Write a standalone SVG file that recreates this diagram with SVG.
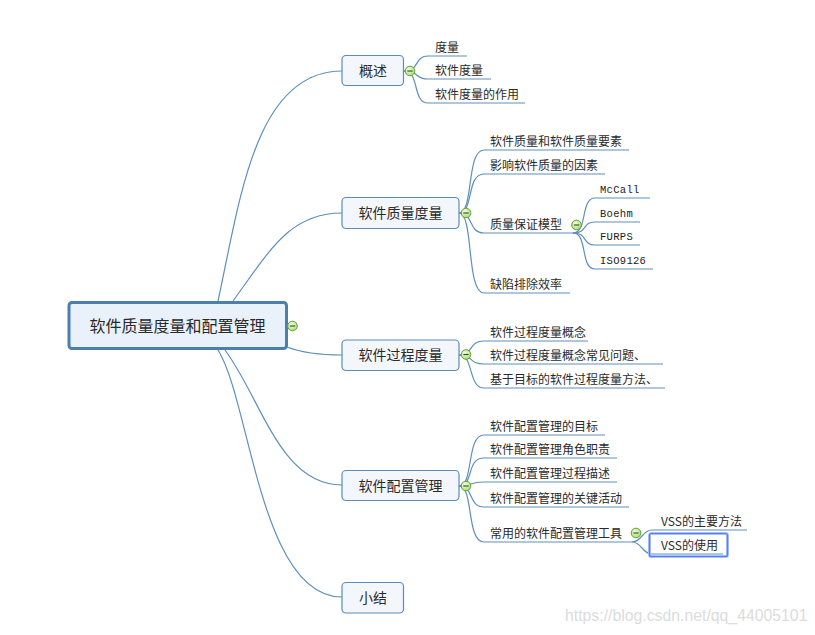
<svg xmlns="http://www.w3.org/2000/svg" width="815" height="635" viewBox="0 0 815 635">
<style>
.c{fill:none;stroke:#5e8fbb;stroke-width:1.2}
.box{fill:#f3f7fc;stroke:#5a8cbc;stroke-width:1.2}
.root{fill:#e9f1fb;stroke:#4a7fae;stroke-width:3}
.t{font-family:"Noto Sans CJK SC","Liberation Sans",sans-serif;fill:#2a2a2a}
.s{font-size:12px}
.b{font-size:14px;text-anchor:middle}
.r{font-size:16px;text-anchor:middle}
.m{font-family:"Liberation Mono",monospace;font-size:10.5px;fill:#222;letter-spacing:0.3px}
.wm{font-family:"Liberation Sans",sans-serif;font-size:15.8px;fill:#dcdcdc}
</style>
<defs>
<radialGradient id="ig" cx="0.4" cy="0.35" r="0.7"><stop offset="0" stop-color="#f1fbe4"/><stop offset="1" stop-color="#a9d978"/></radialGradient>
<g id="icon"><circle r="4.8" fill="url(#ig)" stroke="#62a42a" stroke-width="1"/><line x1="-2.6" y1="0" x2="2.6" y2="0" stroke="#2d4d18" stroke-width="1.1"/></g>
</defs>
<rect width="815" height="635" fill="#ffffff"/>
<g id="connectors">
<path class="c" d="M218 301 C240 200 255 71 342 71"/>
<path class="c" d="M233 301 C270 250 290 213 342 213"/>
<path class="c" d="M287 347 C300 352 320 355 342 355"/>
<path class="c" d="M225 350 C262 400 280 485 342 485"/>
<path class="c" d="M218 350 C250 400 260 597 342 597"/>
<path class="c" d="M404 71 C420 71 414 56 428 56 L467 56"/>
<path class="c" d="M404 71 C420 71 414 79 428 79 L491 79"/>
<path class="c" d="M404 71 C420 71 412 103 428 103 L525 103"/>
<path class="c" d="M459 213 C474 213 466 150 484 150 L629 150"/>
<path class="c" d="M459 213 C474 213 466 174 484 174 L605 174"/>
<path class="c" d="M459 213 C474 213 468 233 484 233 L573 233"/>
<path class="c" d="M459 213 C474 213 466 293 484 293 L570 293"/>
<path class="c" d="M573 233 C588 233 580 198 595 198 L650 198"/>
<path class="c" d="M573 233 C588 233 582 222 595 222 L640 222"/>
<path class="c" d="M573 233 C588 233 582 245 595 245 L640 245"/>
<path class="c" d="M573 233 C588 233 580 269 595 269 L653 269"/>
<path class="c" d="M459 355 C474 355 468 341 484 341 L588 341"/>
<path class="c" d="M459 355 C474 355 468 364 484 364 L663 364"/>
<path class="c" d="M459 355 C474 355 468 388 484 388 L665 388"/>
<path class="c" d="M459 486 C474 486 466 435 484 435 L605 435"/>
<path class="c" d="M459 486 C474 486 466 458 484 458 L617 458"/>
<path class="c" d="M459 486 C474 486 468 482 484 482 L617 482"/>
<path class="c" d="M459 486 C474 486 468 507 484 507 L629 507"/>
<path class="c" d="M459 486 C474 486 466 542 484 542 L632 542"/>
<path class="c" d="M632 542 C642 542 642 530 652 530 L747 530"/>
<path class="c" d="M632 542 C642 542 642 554 652 554 L723 554"/>
</g>
<g id="root">
<rect class="root" x="69" y="302.5" width="217.5" height="46" rx="3"/>
<text class="t r" x="177.5" y="331.5">软件质量度量和配置管理</text>
<use href="#icon" x="292.5" y="326"/>
</g>
<g id="n-gaishu">
<rect class="box" x="342" y="55.5" width="61.5" height="30" rx="4"/>
<text class="t b" x="373" y="76">概述</text>
<use href="#icon" x="410" y="71"/>
<text class="t s" x="435" y="52">度量</text>
<text class="t s" x="435" y="75">软件度量</text>
<text class="t s" x="435" y="99">软件度量的作用</text>
</g>
<g id="n-zlduliang">
<rect class="box" x="342" y="197.5" width="117" height="31" rx="4"/>
<text class="t b" x="400.5" y="218">软件质量度量</text>
<use href="#icon" x="466" y="213"/>
<text class="t s" x="490" y="146">软件质量和软件质量要素</text>
<text class="t s" x="490" y="170">影响软件质量的因素</text>
<text class="t s" x="490" y="229">质量保证模型</text>
<use href="#icon" x="576.5" y="225"/>
<text class="m" x="600" y="193">McCall</text>
<text class="m" x="600" y="217">Boehm</text>
<text class="m" x="600" y="240">FURPS</text>
<text class="m" x="600" y="264">ISO9126</text>
<text class="t s" x="490" y="289">缺陷排除效率</text>
</g>
<g id="n-gcduliang">
<rect class="box" x="342" y="340" width="117" height="30.5" rx="4"/>
<text class="t b" x="400.5" y="360">软件过程度量</text>
<use href="#icon" x="466" y="354.5"/>
<text class="t s" x="490" y="337">软件过程度量概念</text>
<text class="t s" x="490" y="360">软件过程度量概念常见问题、</text>
<text class="t s" x="490" y="384">基于目标的软件过程度量方法、</text>
</g>
<g id="n-pzguanli">
<rect class="box" x="342" y="470.5" width="117" height="30" rx="4"/>
<text class="t b" x="400.5" y="491">软件配置管理</text>
<use href="#icon" x="466" y="486"/>
<text class="t s" x="490" y="431">软件配置管理的目标</text>
<text class="t s" x="490" y="454">软件配置管理角色职责</text>
<text class="t s" x="490" y="478">软件配置管理过程描述</text>
<text class="t s" x="490" y="503">软件配置管理的关键活动</text>
<text class="t s" x="490" y="538">常用的软件配置管理工具</text>
<use href="#icon" x="636" y="533"/>
<text class="t s" x="661" y="526">VSS的主要方法</text>
<rect x="649.5" y="533.5" width="78" height="23" rx="2" fill="none" stroke="#a9c0ff" stroke-width="3"/>
<rect x="649.5" y="533.5" width="78" height="23" rx="2" fill="none" stroke="#5b7bf0" stroke-width="1.2"/>
<text class="t s" x="661" y="550">VSS的使用</text>
</g>
<g id="n-xiaojie">
<rect class="box" x="342" y="582.5" width="61.5" height="30.5" rx="4"/>
<text class="t b" x="373" y="603">小结</text>
</g>
<text class="wm" x="565" y="621">https://blog.csdn.net/qq_44005101</text>
</svg>
